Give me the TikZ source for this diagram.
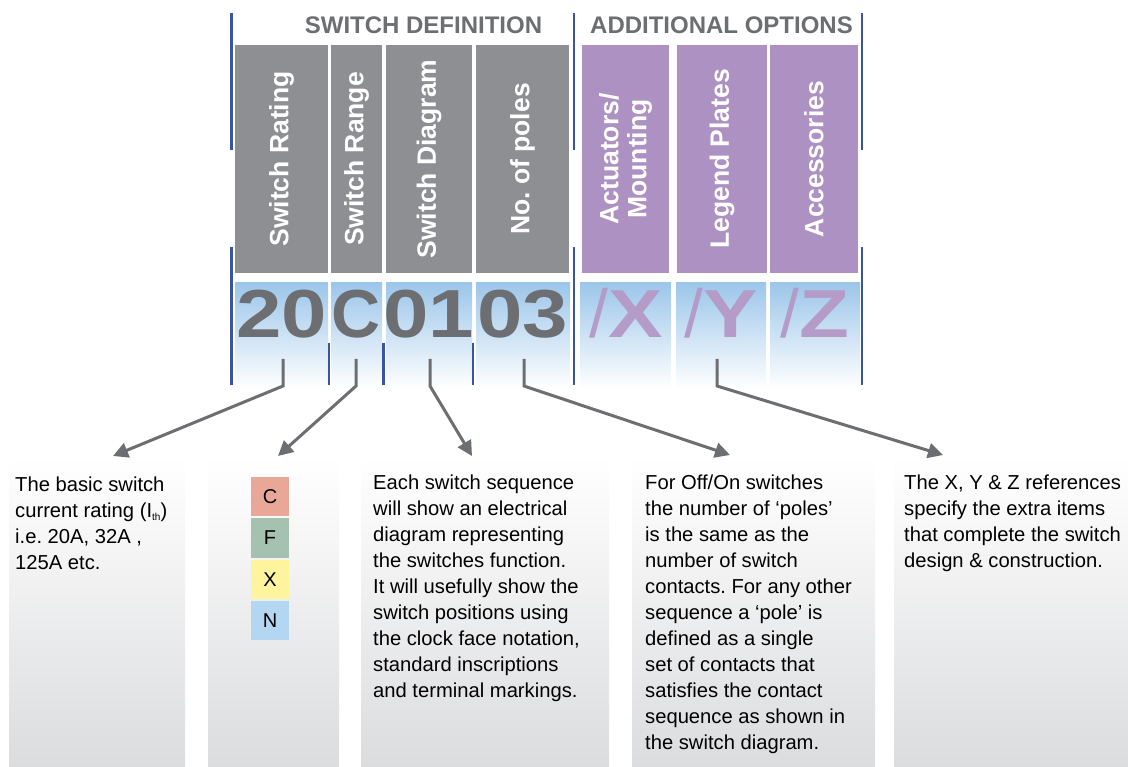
\documentclass[tikz,border=0pt]{standalone}
\usepackage{fontspec}
\setmainfont{Liberation Sans}
\newfontfamily\digitfont[FakeStretch=1.2]{Liberation Sans Bold}
\usetikzlibrary{arrows.meta,positioning}
\frenchspacing
\definecolor{hdgray}{HTML}{8E8F93}
\definecolor{hdpurple}{HTML}{AD91C3}
\definecolor{digitgray}{HTML}{6D6E71}
\definecolor{letterpurple}{HTML}{B49BC8}
\definecolor{bandblue}{HTML}{9CC6EA}
\definecolor{linkblue}{HTML}{3A54A4}
\definecolor{boxgray}{HTML}{DBDCDE}
\definecolor{codeC}{HTML}{E9A897}
\definecolor{codeF}{HTML}{A4C2AF}
\definecolor{codeX}{HTML}{FDF49D}
\definecolor{codeN}{HTML}{B3D6F2}
\tikzset{hdbox/.style={fill=#1, rotate=90, minimum width=228pt, inner sep=0pt, text=white, align=center, font=\fontsize{26.5}{28}\selectfont\bfseries},
  title/.style={anchor=base, text=digitgray, font=\fontsize{24}{24}\selectfont\bfseries},
  digits/.style={anchor=base, inner sep=0pt, text=digitgray, font=\fontsize{68}{68}\digitfont},
  letters/.style={anchor=base, inner sep=0pt, text=letterpurple, font=\fontsize{68}{68}\digitfont},
  linkline/.style={linkblue, line width=2.6pt},
  pointer/.style={digitgray, line width=3pt, -{Triangle[length=15pt,width=15pt]}},
  infobox/.style={anchor=north west, top color=white, bottom color=boxgray, minimum height=310pt, inner sep=0pt},
  infotext/.style={anchor=north west, inner sep=0pt, align=left, font=\fontsize{20.2}{26}\selectfont},
  code/.style={minimum width=38pt, minimum height=39.5pt, inner sep=0pt, font=\fontsize{20}{20}\selectfont}}

\begin{document}
\begin{tikzpicture}[x=1pt,y=-1pt]
   \useasboundingbox (0,0) rectangle (1128,767);
   % group titles
   \node[title] (swdef) at (423.5,34) {SWITCH DEFINITION};
   \node[title] (addopt) at (721.5,34) {ADDITIONAL OPTIONS};
   % header boxes
   \node[hdbox=hdgray, minimum height=93pt] (rating) at (281.5,159) {Switch Rating};
   \node[hdbox=hdgray, minimum height=51pt] (range) at (356.5,159) {Switch Range};
   \node[hdbox=hdgray, minimum height=86pt] (diagram) at (429,159) {Switch Diagram};
   \node[hdbox=hdgray, minimum height=93pt] (poles) at (522.5,159) {No. of poles};
   \node[hdbox=hdpurple, minimum height=87pt] (actuators) at (625.5,159) {Actuators/\\Mounting};
   \node[hdbox=hdpurple, minimum height=90pt] (legend) at (722,159) {Legend Plates};
   \node[hdbox=hdpurple, minimum height=88pt] (accessories) at (814,159) {Accessories};
   % code band
   \fill[top color=bandblue, bottom color=white] (235,283) rectangle (328,388);
   \fill[top color=bandblue, bottom color=white] (331,283) rectangle (382,388);
   \fill[top color=bandblue, bottom color=white] (386,283) rectangle (472,388);
   \fill[top color=bandblue, bottom color=white] (476,283) rectangle (570,388);
   \fill[top color=bandblue, bottom color=white] (580,283) rectangle (671,388);
   \fill[top color=bandblue, bottom color=white] (676,283) rectangle (766,388);
   \fill[top color=bandblue, bottom color=white] (770,283) rectangle (860,388);
   \node[digits] (d20) at (281.5,338) {20};
   \node[digits] (dC) at (356.5,338) {\fontspec{Liberation Sans Bold}C};
   \node[digits] (d01) at (429,338) {01};
   \node[digits] (d03) at (522.5,338) {03};
   \node[letters] (optX) at (626,338) {{\fontspec{Liberation Sans}/}X};
   \node[letters] (optY) at (721,338) {{\fontspec{Liberation Sans}/}Y};
   \node[letters] (optZ) at (815,338) {{\fontspec{Liberation Sans}/}Z};
   % blue dividers
   \draw[linkline] (231.5,13) -- (231.5,150);
   \draw[linkline] (231.5,247) -- (231.5,385);
   \draw[linkline] (574,13) -- (574,150);
   \draw[linkline] (574,247) -- (574,385);
   \draw[linkline] (862,13) -- (862,150);
   \draw[linkline] (862,247) -- (862,385);
   \draw[linkline] (329,343) -- (329,385);
   \draw[linkline] (383.5,343) -- (383.5,385);
   \draw[linkline] (473,343) -- (473,385);
   % description boxes
   \node[infobox, minimum width=176pt] (ratebox) at (9,457) {};
   \node[infobox, minimum width=131pt] (rangebox) at (208,457) {};
   \node[infobox, minimum width=248pt] (diagbox) at (361,457) {};
   \node[infobox, minimum width=243pt] (polebox) at (632,457) {};
   \node[infobox, minimum width=234pt] (optbox) at (894,457) {};
   \node[infotext] (ratetext) at (15,477) {The basic switch\\current rating (I\raisebox{-3pt}{\fontsize{10}{10}\selectfont th})\\i.e. 20A, 32A ,\\125A etc.};
   \node[code, fill=codeC] (cC) at (270,496.5) {C};
   \node[code, fill=codeF, below=1.5pt of cC] (cF) {F};
   \node[code, fill=codeX, below=1.5pt of cF] (cX) {X};
   \node[code, fill=codeN, below=1.5pt of cX] (cN) {N};
   \node[infotext] (diagtext) at (373,475) {Each switch sequence\\will show an electrical\\diagram representing\\the switches function.\\It will usefully show the\\switch positions using\\the clock face notation,\\standard inscriptions\\and terminal markings.};
   \node[infotext] (poletext) at (645,475) {For Off/On switches\\the number of ‘poles’\\is the same as the\\number of switch\\contacts. For any other\\sequence a ‘pole’ is\\defined as a single\\set of contacts that\\satisfies the contact\\sequence as shown in\\the switch diagram.};
   \node[infotext] (opttext) at (904,475) {The X, Y \& Z references\\specify the extra items\\that complete the switch\\design \& construction.};
   % pointers
   \coordinate (ratetip) at (113,456);
   \coordinate (rangetip) at (278,456);
   \coordinate (diagtip) at (472,456);
   \coordinate (poletip) at (730,455);
   \coordinate (opttip) at (943,455);
   \draw[pointer] (283,359) -- (283,386) -- (ratetip);
   \draw[pointer] (356,359) -- (356,386) -- (rangetip);
   \draw[pointer] (430,359) -- (430,386) -- (diagtip);
   \draw[pointer] (524,359) -- (524,386) -- (poletip);
   \draw[pointer] (717,359) -- (717,386) -- (opttip);
  \end{tikzpicture}
\end{document}
